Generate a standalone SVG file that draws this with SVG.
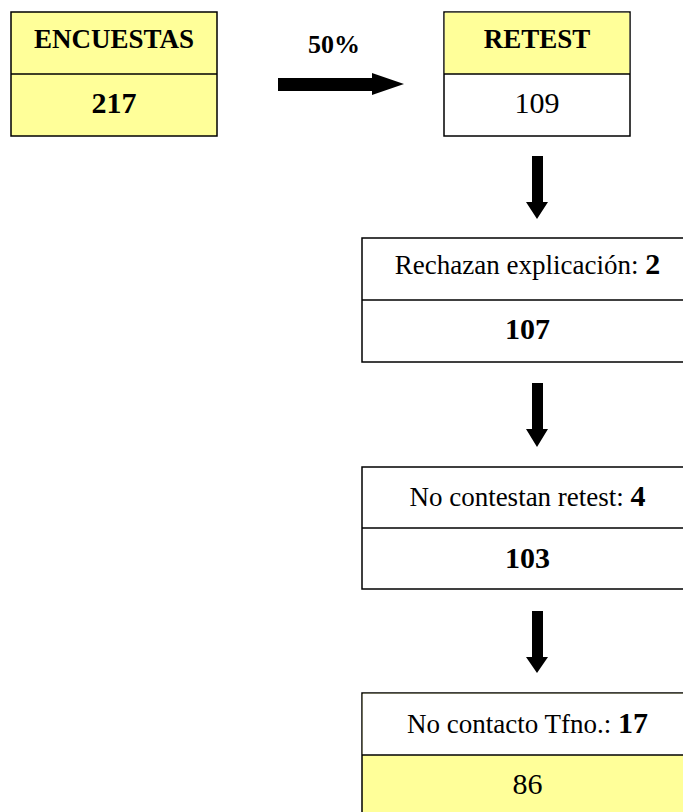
<svg xmlns="http://www.w3.org/2000/svg" width="683" height="812" viewBox="0 0 683 812">
<style>
.box{stroke:#000;stroke-width:1.5;}
.y{fill:#FFFF99;}
.w{fill:#FFFFFF;}
.sep{stroke:#000;stroke-width:1.5;}
text{font-family:"Liberation Serif","Times New Roman",serif;fill:#000;text-anchor:middle;}
.hb{font-size:27px;font-weight:bold;}
.t{font-size:27px;}
.nb{font-size:30px;font-weight:bold;}
.n{font-size:30px;}
.arrow{fill:#000;}
</style>
<rect width="683" height="812" fill="#fff"/>
<g id="encuestas">
<rect class="box y" x="11" y="12" width="206" height="124"/>
<line class="sep" x1="11" y1="74" x2="217" y2="74"/>
<text class="hb" x="114" y="48">ENCUESTAS</text>
<text class="nb" x="114" y="113">217</text>
</g>
<g id="retest">
<rect class="box w" x="444" y="12" width="186" height="124"/>
<rect class="y" x="444.75" y="12.75" width="184.5" height="61.25"/>
<line class="sep" x1="444" y1="74" x2="630" y2="74"/>
<text class="hb" x="537" y="48">RETEST</text>
<text class="n" x="537" y="113">109</text>
</g>
<g id="rechazan">
<rect class="box w" x="362" y="238" width="331" height="124"/>
<line class="sep" x1="362" y1="300" x2="693" y2="300"/>
<text class="t" x="527.5" y="274">Rechazan explicación: <tspan class="nb">2</tspan></text>
<text class="nb" x="527.5" y="339">107</text>
</g>
<g id="nocontestan">
<rect class="box w" x="362" y="467" width="331" height="122"/>
<line class="sep" x1="362" y1="528" x2="693" y2="528"/>
<text class="t" x="527.5" y="506">No contestan retest: <tspan class="nb">4</tspan></text>
<text class="nb" x="527.5" y="568">103</text>
</g>
<g id="nocontacto">
<rect class="box y" x="362" y="693" width="331" height="130"/>
<rect class="w" x="362.75" y="693.75" width="330" height="61.25"/>
<line class="sep" x1="362" y1="755" x2="693" y2="755"/>
<text class="t" x="527.5" y="733">No contacto Tfno.: <tspan class="nb">17</tspan></text>
<text class="n" x="527.5" y="794">86</text>
</g>
<g id="connectors">
<text class="hb" x="334" y="53" style="font-size:26px">50%</text>
<polygon class="arrow" points="278,78 372,78 372,73 404,84 372,95 372,91 278,91"/>
<polygon class="arrow" points="532,156 543,156 543,202 548,202 537,219 526,202 532,202"/>
<polygon class="arrow" points="532,383 543,383 543,429 548,429 537,447 526,429 532,429"/>
<polygon class="arrow" points="532,611 543,611 543,657 548,657 537,673 526,657 532,657"/>
</g>
</svg>
